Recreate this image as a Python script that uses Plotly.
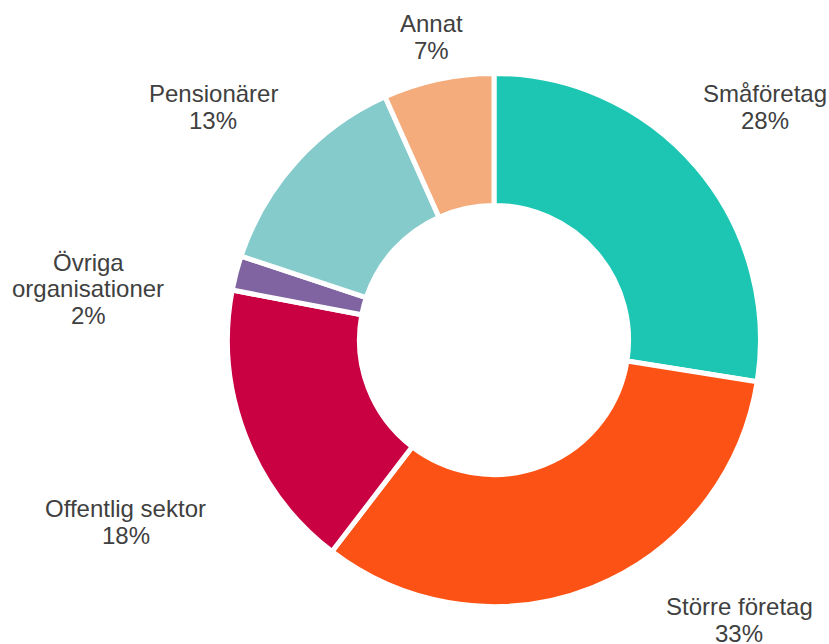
import plotly.graph_objects as go

# Data
labels = ['Småföretag', 'Större företag', 'Offentlig sektor',
          'Övriga organisationer', 'Pensionärer', 'Annat']
values = [27.5, 32.9, 17.6, 2.1, 13.2, 6.7]
pct_text = ['28%', '33%', '18%', '2%', '13%', '7%']
colors = ['#1CC6B3', '#FD5215', '#C90042', '#8064A2', '#86CBCC', '#F4AC7C']

W, H = 829, 644

# label lines and their placement (pixel centre of the label block)
label_lines = {
    'Småföretag': ['Småföretag'],
    'Större företag': ['Större företag'],
    'Offentlig sektor': ['Offentlig sektor'],
    'Övriga organisationer': ['Övriga', 'organisationer'],
    'Pensionärer': ['Pensionärer'],
    'Annat': ['Annat'],
}
label_pos = {
    'Småföretag': (765, 107),
    'Större företag': (739, 620),
    'Offentlig sektor': (126, 522),
    'Övriga organisationer': (88, 289),
    'Pensionärer': (213, 107),
    'Annat': (431, 37),
}
LINE_H = 26.5

fig = go.Figure(go.Pie(
    labels=labels,
    values=values,
    sort=False,
    direction='clockwise',
    rotation=0,
    hole=0.505,
    textinfo='none',
    marker=dict(colors=colors, line=dict(color='white', width=5)),
    domain=dict(x=[227.5 / W, 760.5 / W], y=[1 - 606.5 / H, 1 - 73.5 / H]),
    showlegend=False,
))

annotations = []
for lab, pct in zip(labels, pct_text):
    lines = label_lines[lab] + [pct]
    cx, cy = label_pos[lab]
    n = len(lines)
    for i, line in enumerate(lines):
        y = cy + (i - (n - 1) / 2) * LINE_H
        annotations.append(dict(
            x=cx / W, y=1 - y / H, xref='paper', yref='paper',
            text=line, showarrow=False, xanchor='center', yanchor='middle',
            font=dict(family='Liberation Sans, Arial', size=24, color='#404040'),
        ))

fig.update_layout(
    width=W, height=H,
    margin=dict(l=0, r=0, t=0, b=0),
    paper_bgcolor='white',
    plot_bgcolor='white',
    annotations=annotations,
)

fig.write_html('out.html', config={'displayModeBar': False},
               post_script="document.body.style.margin='0';")
